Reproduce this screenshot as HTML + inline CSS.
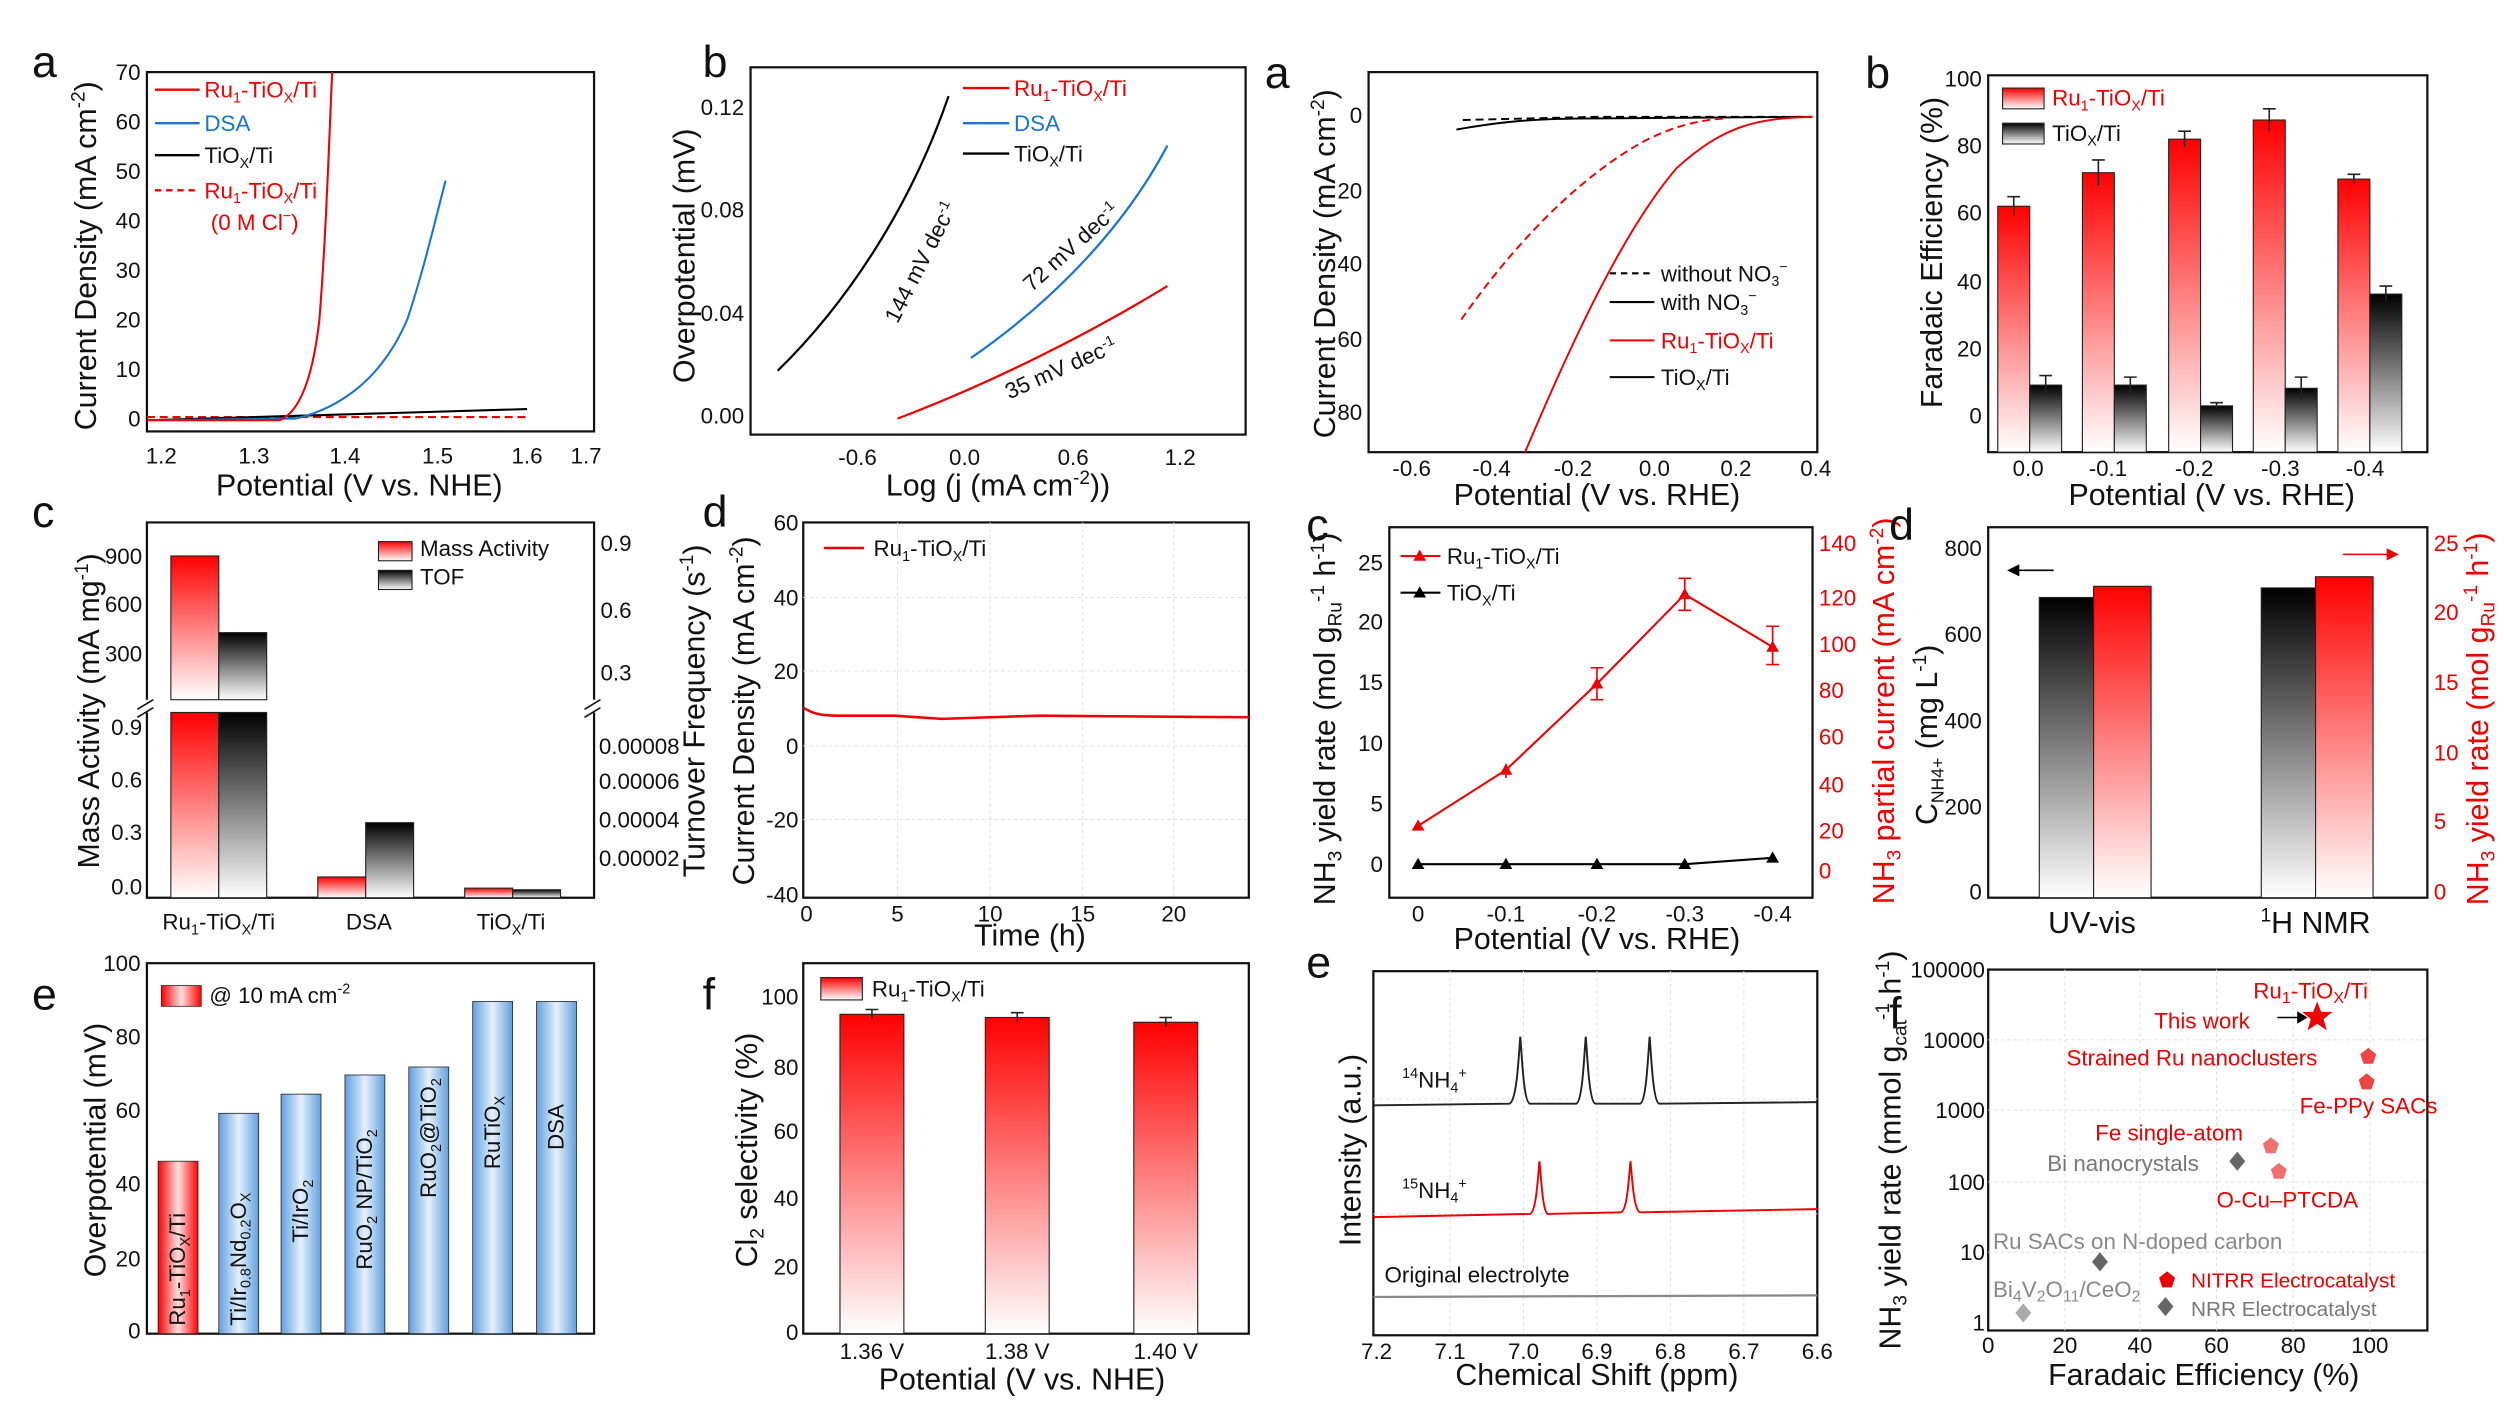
<!DOCTYPE html>
<html><head><meta charset="utf-8"><style>
html,body{margin:0;padding:0;background:#fff;}
svg{display:block;}
text{font-family:"Liberation Sans",sans-serif;}
.t{font-size:14px;fill:#111}
.ax{font-size:19px;fill:#111;font-family:"Liberation Sans",sans-serif}
.pl{font-size:28px;fill:#111;font-family:"Liberation Sans",sans-serif}
.box{fill:none;stroke:#111;stroke-width:1.4}
.g{stroke:#ddd;stroke-width:0.6;stroke-dasharray:2 2}
</style></head><body>
<svg width="2504" height="1401" viewBox="0 0 1568 877" xmlns="http://www.w3.org/2000/svg">
<defs>
<linearGradient id="rv" x1="0" y1="0" x2="0" y2="1"><stop offset="0" stop-color="#f00"/><stop offset="1" stop-color="#fff"/></linearGradient>
<linearGradient id="kv" x1="0" y1="0" x2="0" y2="1"><stop offset="0" stop-color="#000"/><stop offset="1" stop-color="#fff"/></linearGradient>
<linearGradient id="bh" x1="0" y1="0" x2="1" y2="0"><stop offset="0" stop-color="#5fa0e0"/><stop offset="0.5" stop-color="#e6f0fb"/><stop offset="1" stop-color="#5fa0e0"/></linearGradient>
<linearGradient id="rh" x1="0" y1="0" x2="1" y2="0"><stop offset="0" stop-color="#f00"/><stop offset="0.5" stop-color="#fde0e0"/><stop offset="1" stop-color="#f00"/></linearGradient>
</defs>

<!-- ===== Panel a (left top) ===== -->
<text class="pl" x="20" y="48">a</text>
<rect class="box" x="92" y="45" width="280" height="225"/>
<g class="t" text-anchor="end">
<text x="88" y="50">70</text><text x="88" y="81">60</text><text x="88" y="112">50</text><text x="88" y="143">40</text><text x="88" y="174">30</text><text x="88" y="205">20</text><text x="88" y="236">10</text><text x="88" y="267">0</text></g>
<g class="t" text-anchor="middle">
<text x="101" y="290">1.2</text><text x="159" y="290">1.3</text><text x="216" y="290">1.4</text><text x="274" y="290">1.5</text><text x="330" y="290">1.6</text><text x="367" y="290">1.7</text></g>
<text class="ax" x="225" y="310" text-anchor="middle">Potential (V vs. NHE)</text>
<text class="ax" transform="translate(60,160) rotate(-90)" text-anchor="middle">Current Density (mA cm<tspan dy="-7" font-size="12">-2</tspan><tspan dy="7">)</tspan></text>
<path d="M92 261 H330" stroke="#e00" stroke-width="1.3" stroke-dasharray="5 3" fill="none"/>
<path d="M92 263 L330 256" stroke="#000" stroke-width="1.3" fill="none"/>
<path d="M92 263 L185 262 C215 255 240 235 255 200 C265 170 272 140 279 113" stroke="#1a75d1" stroke-width="1.3" fill="none"/>
<path d="M92 263 L175 263 C188 258 196 235 200 200 C204 150 206 90 208 45" stroke="#e00" stroke-width="1.3" fill="none"/>
<g class="t">
<line x1="97" y1="56" x2="125" y2="56" stroke="#e00" stroke-width="1.5"/><text x="128" y="61" fill="#e00">Ru<tspan font-size="9" dy="3">1</tspan><tspan dy="-3">-TiO</tspan><tspan font-size="9" dy="3">X</tspan><tspan dy="-3">/Ti</tspan></text>
<line x1="97" y1="77" x2="125" y2="77" stroke="#1a75d1" stroke-width="1.5"/><text x="128" y="82" fill="#1a75d1">DSA</text>
<line x1="97" y1="97" x2="125" y2="97" stroke="#000" stroke-width="1.5"/><text x="128" y="102">TiO<tspan font-size="9" dy="3">X</tspan><tspan dy="-3">/Ti</tspan></text>
<line x1="97" y1="119" x2="125" y2="119" stroke="#e00" stroke-width="1.5" stroke-dasharray="4 3"/><text x="128" y="124" fill="#e00">Ru<tspan font-size="9" dy="3">1</tspan><tspan dy="-3">-TiO</tspan><tspan font-size="9" dy="3">X</tspan><tspan dy="-3">/Ti</tspan></text>
<text x="132" y="144" fill="#e00">(0 M Cl<tspan font-size="9" dy="-6">−</tspan><tspan dy="6">)</tspan></text>
</g>

<!-- ===== Panel b (left top) ===== -->
<text class="pl" x="440" y="48">b</text>
<rect class="box" x="470" y="42" width="310" height="230"/>
<g class="t" text-anchor="end">
<text x="466" y="72">0.12</text><text x="466" y="136">0.08</text><text x="466" y="201">0.04</text><text x="466" y="265">0.00</text></g>
<g class="t" text-anchor="middle">
<text x="537" y="291">-0.6</text><text x="604" y="291">0.0</text><text x="672" y="291">0.6</text><text x="739" y="291">1.2</text></g>
<text class="ax" x="625" y="310" text-anchor="middle">Log (j (mA cm<tspan dy="-7" font-size="12">-2</tspan><tspan dy="7">))</tspan></text>
<text class="ax" transform="translate(435,160) rotate(-90)" text-anchor="middle">Overpotential (mV)</text>
<path d="M487 232 C530 190 570 130 594 60" stroke="#000" stroke-width="1.4" fill="none"/>
<path d="M608 224 C650 195 700 150 731 91" stroke="#1a75d1" stroke-width="1.4" fill="none"/>
<path d="M562 262 C620 240 680 210 731 179" stroke="#e00" stroke-width="1.4" fill="none"/>
<text class="t" transform="translate(562,203) rotate(-63)" font-size="13">144 mV dec<tspan font-size="9" dy="-5">-1</tspan></text>
<text class="t" transform="translate(646,183) rotate(-42)" font-size="13" fill="#1a75d1">72 mV dec<tspan font-size="9" dy="-5">-1</tspan></text>
<text class="t" transform="translate(632,250) rotate(-24)" font-size="13" fill="#e00">35 mV dec<tspan font-size="9" dy="-5">-1</tspan></text>
<g class="t">
<line x1="603" y1="55" x2="632" y2="55" stroke="#e00" stroke-width="1.5"/><text x="635" y="60" fill="#e00">Ru<tspan font-size="9" dy="3">1</tspan><tspan dy="-3">-TiO</tspan><tspan font-size="9" dy="3">X</tspan><tspan dy="-3">/Ti</tspan></text>
<line x1="603" y1="77" x2="632" y2="77" stroke="#1a75d1" stroke-width="1.5"/><text x="635" y="82" fill="#1a75d1">DSA</text>
<line x1="603" y1="96" x2="632" y2="96" stroke="#000" stroke-width="1.5"/><text x="635" y="101">TiO<tspan font-size="9" dy="3">X</tspan><tspan dy="-3">/Ti</tspan></text>
</g>

<!-- ===== Panel a (right top) ===== -->
<text class="pl" x="792" y="55">a</text>
<rect class="box" x="857" y="45" width="281" height="238"/>
<g class="t" text-anchor="end">
<text x="853" y="77">0</text><text x="853" y="124">20</text><text x="853" y="170">40</text><text x="853" y="217">60</text><text x="853" y="263">80</text></g>
<g class="t" text-anchor="middle">
<text x="884" y="298">-0.6</text><text x="934" y="298">-0.4</text><text x="985" y="298">-0.2</text><text x="1036" y="298">0.0</text><text x="1087" y="298">0.2</text><text x="1137" y="298">0.4</text></g>
<text class="ax" x="1000" y="316" text-anchor="middle">Potential (V vs. RHE)</text>
<text class="ax" transform="translate(836,165) rotate(-90)" text-anchor="middle">Current Density (mA cm<tspan dy="-7" font-size="12">-2</tspan><tspan dy="7">)</tspan></text>
<path d="M916 75 L1000 73 L1135 73" stroke="#000" stroke-width="1.2" stroke-dasharray="5 3" fill="none"/>
<path d="M912 81 C940 76 960 74 1000 74 L1135 73" stroke="#000" stroke-width="1.2" fill="none"/>
<path d="M915 200 C950 150 990 110 1030 88 C1050 78 1065 75 1080 74" stroke="#e00" stroke-width="1.2" stroke-dasharray="5 3" fill="none"/>
<path d="M955 283 C990 200 1020 140 1050 105 C1080 78 1100 74 1135 73" stroke="#e00" stroke-width="1.2" fill="none"/>
<g class="t">
<line x1="1008" y1="171" x2="1036" y2="171" stroke="#000" stroke-width="1.3" stroke-dasharray="4 3"/><text x="1040" y="176">without NO<tspan font-size="9" dy="3">3</tspan><tspan font-size="9" dy="-9">−</tspan></text>
<line x1="1008" y1="189" x2="1036" y2="189" stroke="#000" stroke-width="1.3"/><text x="1040" y="194">with NO<tspan font-size="9" dy="3">3</tspan><tspan font-size="9" dy="-9">−</tspan></text>
<line x1="1008" y1="213" x2="1036" y2="213" stroke="#e00" stroke-width="1.3"/><text x="1040" y="218" fill="#e00">Ru<tspan font-size="9" dy="3">1</tspan><tspan dy="-3">-TiO</tspan><tspan font-size="9" dy="3">X</tspan><tspan dy="-3">/Ti</tspan></text>
<line x1="1008" y1="236" x2="1036" y2="236" stroke="#000" stroke-width="1.3"/><text x="1040" y="241">TiO<tspan font-size="9" dy="3">X</tspan><tspan dy="-3">/Ti</tspan></text>
</g>

<!-- ===== Panel b (right top) ===== -->
<text class="pl" x="1168" y="55">b</text>
<rect class="box" x="1245" y="47" width="275" height="236"/>
<g class="t" text-anchor="end">
<text x="1241" y="54">100</text><text x="1241" y="96">80</text><text x="1241" y="138">60</text><text x="1241" y="181">40</text><text x="1241" y="223">20</text><text x="1241" y="265">0</text></g>
<g class="t" text-anchor="middle">
<text x="1270" y="298">0.0</text><text x="1320" y="298">-0.1</text><text x="1374" y="298">-0.2</text><text x="1428" y="298">-0.3</text><text x="1481" y="298">-0.4</text></g>
<text class="ax" x="1385" y="316" text-anchor="middle">Potential (V vs. RHE)</text>
<text class="ax" transform="translate(1216,158) rotate(-90)" text-anchor="middle">Faradaic Efficiency (%)</text>
<g stroke="#222" stroke-width="0.7">
<rect x="1251" y="129" width="20" height="154" fill="url(#rv)"/><rect x="1271" y="241" width="20" height="42" fill="url(#kv)"/>
<rect x="1304" y="108" width="20" height="175" fill="url(#rv)"/><rect x="1324" y="241" width="20" height="42" fill="url(#kv)"/>
<rect x="1358" y="87" width="20" height="196" fill="url(#rv)"/><rect x="1378" y="254" width="20" height="29" fill="url(#kv)"/>
<rect x="1411" y="75" width="20" height="208" fill="url(#rv)"/><rect x="1431" y="243" width="20" height="40" fill="url(#kv)"/>
<rect x="1464" y="112" width="20" height="171" fill="url(#rv)"/><rect x="1484" y="184" width="20" height="99" fill="url(#kv)"/>
</g>
<g stroke="#222" stroke-width="1">
<path d="M1261 123V135M1257 123h8M1281 235V247M1277 235h8M1314 100V116M1310 100h8M1334 236V246M1330 236h8M1368 82V92M1364 82h8M1388 252V256M1384 252h8M1421 68V82M1417 68h8M1441 236V250M1437 236h8M1474 109V115M1470 109h8M1494 179V189M1490 179h8" fill="none"/>
</g>
<g class="t">
<rect x="1254" y="55" width="26" height="13" fill="url(#rv)" stroke="#222" stroke-width="0.7"/><text x="1285" y="66" fill="#e00">Ru<tspan font-size="9" dy="3">1</tspan><tspan dy="-3">-TiO</tspan><tspan font-size="9" dy="3">X</tspan><tspan dy="-3">/Ti</tspan></text>
<rect x="1254" y="77" width="26" height="13" fill="url(#kv)" stroke="#222" stroke-width="0.7"/><text x="1285" y="88">TiO<tspan font-size="9" dy="3">X</tspan><tspan dy="-3">/Ti</tspan></text>
</g>

<!-- ===== Panel c (left mid) ===== -->
<text class="pl" x="20" y="330">c</text>
<path class="box" d="M92 327 H372 V562 H92 Z"/>
<rect x="88" y="438" width="8" height="8" fill="#fff"/><rect x="368" y="438" width="8" height="8" fill="#fff"/>
<path d="M86 444 l10 -6 M86 449 l10 -6 M366 444 l10 -6 M366 449 l10 -6" stroke="#111" stroke-width="1"/>
<g class="t" text-anchor="end">
<text x="89" y="353">900</text><text x="89" y="383">600</text><text x="89" y="414">300</text>
<text x="89" y="460">0.9</text><text x="89" y="493">0.6</text><text x="89" y="526">0.3</text><text x="89" y="560">0.0</text></g>
<g class="t" font-size="12.5">
<text x="376" y="345">0.9</text><text x="376" y="387">0.6</text><text x="376" y="426">0.3</text>
<text x="375" y="472">0.00008</text><text x="375" y="494">0.00006</text><text x="375" y="518">0.00004</text><text x="375" y="542">0.00002</text></g>
<g class="t" text-anchor="middle">
<text x="137" y="582">Ru<tspan font-size="9" dy="3">1</tspan><tspan dy="-3">-TiO</tspan><tspan font-size="9" dy="3">X</tspan><tspan dy="-3">/Ti</tspan></text><text x="231" y="582">DSA</text><text x="320" y="582">TiO<tspan font-size="9" dy="3">X</tspan><tspan dy="-3">/Ti</tspan></text></g>
<text class="ax" transform="translate(62,445) rotate(-90)" text-anchor="middle">Mass Activity (mA mg<tspan dy="-7" font-size="12">-1</tspan><tspan dy="7">)</tspan></text>
<text class="ax" transform="translate(441,445) rotate(-90)" text-anchor="middle">Turnover Frequency (s<tspan dy="-7" font-size="12">-1</tspan><tspan dy="7">)</tspan></text>
<g stroke="#222" stroke-width="0.7">
<rect x="107" y="348" width="30" height="90" fill="url(#rv)"/><rect x="137" y="396" width="30" height="42" fill="url(#kv)"/>
<rect x="107" y="446" width="30" height="116" fill="url(#rv)"/><rect x="137" y="446" width="30" height="116" fill="url(#kv)"/>
<rect x="199" y="549" width="30" height="13" fill="url(#rv)"/><rect x="229" y="515" width="30" height="47" fill="url(#kv)"/>
<rect x="291" y="556" width="30" height="6" fill="url(#rv)"/><rect x="321" y="557" width="30" height="5" fill="url(#kv)"/>
</g>
<g class="t">
<rect x="237" y="339" width="21" height="12" fill="url(#rv)" stroke="#222" stroke-width="0.7"/><text x="263" y="348">Mass Activity</text>
<rect x="237" y="357" width="21" height="12" fill="url(#kv)" stroke="#222" stroke-width="0.7"/><text x="263" y="366">TOF</text>
</g>

<!-- ===== Panel d (left mid) ===== -->
<text class="pl" x="440" y="330">d</text>
<rect class="box" x="503" y="327" width="279" height="235"/>
<g class="g"><path d="M503 374H782M503 420H782M503 467H782M503 513H782M562 327V562M620 327V562M678 327V562M735 327V562"/></g>
<g class="t" text-anchor="end">
<text x="500" y="332">60</text><text x="500" y="379">40</text><text x="500" y="425">20</text><text x="500" y="472">0</text><text x="500" y="518">-20</text><text x="500" y="565">-40</text></g>
<g class="t" text-anchor="middle">
<text x="505" y="577">0</text><text x="562" y="577">5</text><text x="620" y="577">10</text><text x="678" y="577">15</text><text x="735" y="577">20</text></g>
<text class="ax" x="645" y="592" text-anchor="middle">Time (h)</text>
<text class="ax" transform="translate(472,445) rotate(-90)" text-anchor="middle">Current Density (mA cm<tspan dy="-7" font-size="12">-2</tspan><tspan dy="7">)</tspan></text>
<path d="M503 443 C508 446 512 448 525 448 L560 448 L590 450 L620 449 L650 448 L782 449" stroke="#e00" stroke-width="1.6" fill="none"/>
<line x1="516" y1="343" x2="541" y2="343" stroke="#e00" stroke-width="1.5"/><text class="t" x="547" y="348">Ru<tspan font-size="9" dy="3">1</tspan><tspan dy="-3">-TiO</tspan><tspan font-size="9" dy="3">X</tspan><tspan dy="-3">/Ti</tspan></text>

<!-- ===== Panel c (right mid) ===== -->
<text class="pl" x="818" y="338">c</text>
<rect class="box" x="870" y="330" width="265" height="232"/>
<g class="t" text-anchor="end">
<text x="866" y="357">25</text><text x="866" y="394">20</text><text x="866" y="432">15</text><text x="866" y="470">10</text><text x="866" y="508">5</text><text x="866" y="546">0</text></g>
<g class="t" fill="#e00">
<text x="1139" y="345" fill="#e00">140</text><text x="1139" y="379" fill="#e00">120</text><text x="1139" y="408" fill="#e00">100</text><text x="1139" y="437" fill="#e00">80</text><text x="1139" y="466" fill="#e00">60</text><text x="1139" y="496" fill="#e00">40</text><text x="1139" y="525" fill="#e00">20</text><text x="1139" y="550" fill="#e00">0</text></g>
<g class="t" text-anchor="middle">
<text x="888" y="577">0</text><text x="943" y="577">-0.1</text><text x="1000" y="577">-0.2</text><text x="1055" y="577">-0.3</text><text x="1110" y="577">-0.4</text></g>
<text class="ax" x="1000" y="594" text-anchor="middle">Potential (V vs. RHE)</text>
<text class="ax" transform="translate(836,450) rotate(-90)" text-anchor="middle">NH<tspan font-size="12" dy="4">3</tspan><tspan dy="-4"> yield rate (mol g</tspan><tspan font-size="12" dy="4">Ru</tspan><tspan font-size="12" dy="-11">-1</tspan><tspan dy="7"> h</tspan><tspan font-size="12" dy="-7">-1</tspan><tspan dy="7">)</tspan></text>
<text class="ax" transform="translate(1186,445) rotate(-90)" text-anchor="middle" style="fill:#e00">NH<tspan font-size="12" dy="4">3</tspan><tspan dy="-4"> partial current (mA cm</tspan><tspan font-size="12" dy="-7">-2</tspan><tspan dy="7">)</tspan></text>
<path d="M888 541 L943 541 L1000 541 L1055 541 L1110 537" stroke="#000" stroke-width="1.3" fill="none"/>
<path d="M888 517 L943 482 L1000 428 L1055 372 L1110 405" stroke="#e00" stroke-width="1.3" fill="none"/>
<g fill="#000"><path d="M888 537l4 7h-8z M943 537l4 7h-8z M1000 537l4 7h-8z M1055 537l4 7h-8z M1110 533l4 7h-8z"/></g>
<g fill="#e00"><path d="M888 513l4 7h-8z M943 478l4 7h-8z M1000 424l4 7h-8z M1055 368l4 7h-8z M1110 401l4 7h-8z"/></g>
<path d="M943 478V487M1000 418V438M1055 362V382M1110 392V416M1106 392h8M1106 416h8M1051 362h8M1051 382h8M996 418h8M996 438h8" stroke="#e00" stroke-width="1" fill="none"/>
<g class="t">
<line x1="877" y1="348" x2="902" y2="348" stroke="#e00" stroke-width="1.3"/><path d="M889 344l4 7h-8z" fill="#e00"/><text x="906" y="353">Ru<tspan font-size="9" dy="3">1</tspan><tspan dy="-3">-TiO</tspan><tspan font-size="9" dy="3">X</tspan><tspan dy="-3">/Ti</tspan></text>
<line x1="877" y1="371" x2="902" y2="371" stroke="#000" stroke-width="1.3"/><path d="M889 367l4 7h-8z" fill="#000"/><text x="906" y="376">TiO<tspan font-size="9" dy="3">X</tspan><tspan dy="-3">/Ti</tspan></text>
</g>

<!-- ===== Panel d (right mid) ===== -->
<text class="pl" x="1183" y="338">d</text>
<rect class="box" x="1245" y="330" width="275" height="232"/>
<g class="t" text-anchor="end">
<text x="1241" y="348">800</text><text x="1241" y="402">600</text><text x="1241" y="456">400</text><text x="1241" y="510">200</text><text x="1241" y="563">0</text></g>
<g class="t" fill="#e00">
<text x="1524" y="345" fill="#e00">25</text><text x="1524" y="388" fill="#e00">20</text><text x="1524" y="432" fill="#e00">15</text><text x="1524" y="476" fill="#e00">10</text><text x="1524" y="519" fill="#e00">5</text><text x="1524" y="563" fill="#e00">0</text></g>
<text class="ax" x="1310" y="584" text-anchor="middle">UV-vis</text>
<text class="ax" x="1450" y="584" text-anchor="middle"><tspan font-size="12" dy="-7">1</tspan><tspan dy="7">H NMR</tspan></text>
<text class="ax" transform="translate(1213,460) rotate(-90)" text-anchor="middle">C<tspan font-size="11" dy="4">NH4+</tspan><tspan dy="-4"> (mg L</tspan><tspan font-size="12" dy="-7">-1</tspan><tspan dy="7">)</tspan></text>
<text class="ax" transform="translate(1558,450) rotate(-90)" text-anchor="middle" style="fill:#e00">NH<tspan font-size="12" dy="4">3</tspan><tspan dy="-4"> yield rate (mol g</tspan><tspan font-size="12" dy="4">Ru</tspan><tspan font-size="12" dy="-11">-1</tspan><tspan dy="7"> h</tspan><tspan font-size="12" dy="-7">-1</tspan><tspan dy="7">)</tspan></text>
<g stroke="#222" stroke-width="0.7">
<rect x="1277" y="374" width="34" height="188" fill="url(#kv)"/><rect x="1311" y="367" width="36" height="195" fill="url(#rv)"/>
<rect x="1416" y="368" width="34" height="194" fill="url(#kv)"/><rect x="1450" y="361" width="36" height="201" fill="url(#rv)"/>
</g>
<path d="M1258 357H1286M1258 357l6 -3v6z" stroke="#000" fill="#000" stroke-width="1"/>
<path d="M1467 347H1495M1501 347l-6 -3v6z" stroke="#e00" fill="#e00" stroke-width="1"/>

<!-- ===== Panel e (left bottom) ===== -->
<text class="pl" x="20" y="632">e</text>
<rect class="box" x="92" y="603" width="280" height="232"/>
<g class="t" text-anchor="end">
<text x="88" y="608">100</text><text x="88" y="654">80</text><text x="88" y="700">60</text><text x="88" y="746">40</text><text x="88" y="793">20</text><text x="88" y="838">0</text></g>
<text class="ax" transform="translate(66,720) rotate(-90)" text-anchor="middle">Overpotential (mV)</text>
<g stroke="#222" stroke-width="0.5">
<rect x="99" y="727" width="25" height="108" fill="url(#rh)"/>
<rect x="137" y="697" width="25" height="138" fill="url(#bh)"/>
<rect x="176" y="685" width="25" height="150" fill="url(#bh)"/>
<rect x="216" y="673" width="25" height="162" fill="url(#bh)"/>
<rect x="256" y="668" width="25" height="167" fill="url(#bh)"/>
<rect x="296" y="627" width="25" height="208" fill="url(#bh)"/>
<rect x="336" y="627" width="25" height="208" fill="url(#bh)"/>
</g>
<g class="t" font-size="13">
<text transform="translate(116,830) rotate(-90)">Ru<tspan font-size="9" dy="3">1</tspan><tspan dy="-3">-TiO</tspan><tspan font-size="9" dy="3">X</tspan><tspan dy="-3">/Ti</tspan></text>
<text transform="translate(154,830) rotate(-90)">Ti/Ir<tspan font-size="9" dy="3">0.8</tspan><tspan dy="-3">Nd</tspan><tspan font-size="9" dy="3">0.2</tspan><tspan dy="-3">O</tspan><tspan font-size="9" dy="3">X</tspan></text>
<text transform="translate(193,778) rotate(-90)">Ti/IrO<tspan font-size="9" dy="3">2</tspan></text>
<text transform="translate(233,795) rotate(-90)">RuO<tspan font-size="9" dy="3">2</tspan><tspan dy="-3"> NP/TiO</tspan><tspan font-size="9" dy="3">2</tspan></text>
<text transform="translate(273,750) rotate(-90)">RuO<tspan font-size="9" dy="3">2</tspan><tspan dy="-3">@TiO</tspan><tspan font-size="9" dy="3">2</tspan></text>
<text transform="translate(313,732) rotate(-90)">RuTiO<tspan font-size="9" dy="3">X</tspan></text>
<text transform="translate(353,720) rotate(-90)">DSA</text>
</g>
<rect x="101" y="617" width="25" height="13" fill="url(#rh)" stroke="#222" stroke-width="0.5"/><text class="t" x="131" y="628">@ 10 mA cm<tspan font-size="9" dy="-6">-2</tspan></text>

<!-- ===== Panel f (left bottom) ===== -->
<text class="pl" x="440" y="632">f</text>
<rect class="box" x="503" y="603" width="279" height="232"/>
<g class="t" text-anchor="end">
<text x="500" y="629">100</text><text x="500" y="673">80</text><text x="500" y="713">60</text><text x="500" y="755">40</text><text x="500" y="798">20</text><text x="500" y="839">0</text></g>
<g class="t" text-anchor="middle">
<text x="546" y="851">1.36 V</text><text x="637" y="851">1.38 V</text><text x="730" y="851">1.40 V</text></g>
<text class="ax" x="640" y="870" text-anchor="middle">Potential (V vs. NHE)</text>
<text class="ax" transform="translate(474,720) rotate(-90)" text-anchor="middle">Cl<tspan font-size="12" dy="4">2</tspan><tspan dy="-4"> selectivity (%)</tspan></text>
<g stroke="#222" stroke-width="0.7">
<rect x="526" y="635" width="40" height="200" fill="url(#rv)"/>
<rect x="617" y="637" width="40" height="198" fill="url(#rv)"/>
<rect x="710" y="640" width="40" height="195" fill="url(#rv)"/>
</g>
<path d="M546 632V638M542 632h8M637 634V640M633 634h8M730 637V643M726 637h8" stroke="#222" fill="none"/>
<rect x="514" y="612" width="26" height="14" fill="url(#rv)" stroke="#222" stroke-width="0.7"/><text class="t" x="546" y="624">Ru<tspan font-size="9" dy="3">1</tspan><tspan dy="-3">-TiO</tspan><tspan font-size="9" dy="3">X</tspan><tspan dy="-3">/Ti</tspan></text>

<!-- ===== Panel e (right bottom) ===== -->
<text class="pl" x="818" y="612">e</text>
<rect class="box" x="860" y="608" width="278" height="228"/>
<g class="g"><path d="M908 608V836M954 608V836M1000 608V836M1046 608V836M1092 608V836M860 760H1138M860 688H1138"/></g>
<g class="t" text-anchor="middle">
<text x="862" y="851">7.2</text><text x="908" y="851">7.1</text><text x="954" y="851">7.0</text><text x="1000" y="851">6.9</text><text x="1046" y="851">6.8</text><text x="1092" y="851">6.7</text><text x="1138" y="851">6.6</text></g>
<text class="ax" x="1000" y="867" text-anchor="middle">Chemical Shift (ppm)</text>
<text class="ax" transform="translate(852,720) rotate(-90)" text-anchor="middle">Intensity (a.u.)</text>
<path d="M860 692 L945 691 C950 690 951 660 952 649 C953 660 954 690 958 691 L987 691 C991 690 992 660 993 649 C994 660 995 690 999 691 L1027 691 C1031 690 1032 660 1033 649 C1034 660 1035 690 1039 691 L1138 690" stroke="#222" stroke-width="1.2" fill="none"/>
<path d="M860 762 L958 760 C962 759 963 737 964 727 C965 737 966 758 969 760 L1015 759 C1019 758 1020 737 1021 727 C1022 737 1023 758 1027 759 L1138 757" stroke="#e00" stroke-width="1.2" fill="none"/>
<path d="M860 812 L1138 811" stroke="#888" stroke-width="1.4"/>
<text class="t" x="878" y="681"><tspan font-size="9" dy="-6">14</tspan><tspan dy="6">NH</tspan><tspan font-size="9" dy="3">4</tspan><tspan font-size="9" dy="-9">+</tspan></text>
<text class="t" x="878" y="750" fill="#e00"><tspan font-size="9" dy="-6">15</tspan><tspan dy="6">NH</tspan><tspan font-size="9" dy="3">4</tspan><tspan font-size="9" dy="-9">+</tspan></text>
<text class="t" x="867" y="803" fill="#888">Original electrolyte</text>

<!-- ===== Panel f (right bottom) ===== -->
<text class="pl" x="1183" y="644">f</text>
<rect class="box" x="1245" y="607" width="275" height="226"/>
<g class="g"><path d="M1245 651H1520M1245 695H1520M1245 740H1520M1245 784H1520M1293 607V833M1340 607V833M1388 607V833M1436 607V833M1484 607V833"/></g>
<g class="t" text-anchor="end">
<text x="1243" y="612">100000</text><text x="1243" y="656">10000</text><text x="1243" y="700">1000</text><text x="1243" y="745">100</text><text x="1243" y="789">10</text><text x="1243" y="833">1</text></g>
<g class="t" text-anchor="middle">
<text x="1245" y="847">0</text><text x="1293" y="847">20</text><text x="1340" y="847">40</text><text x="1388" y="847">60</text><text x="1436" y="847">80</text><text x="1484" y="847">100</text></g>
<text class="ax" x="1380" y="867" text-anchor="middle">Faradaic Efficiency (%)</text>
<text class="ax" transform="translate(1190,720) rotate(-90)" text-anchor="middle">NH<tspan font-size="12" dy="4">3</tspan><tspan dy="-4"> yield rate (mmol g</tspan><tspan font-size="12" dy="4">cat</tspan><tspan font-size="12" dy="-11">-1</tspan><tspan dy="7"> h</tspan><tspan font-size="12" dy="-7">-1</tspan><tspan dy="7">)</tspan></text>
<path d="M1451 627 l2.5 6.5 h7 l-5.5 4.5 2 7 -6 -4 -6 4 2 -7 -5.5 -4.5 h7z" fill="#e00"/>
<path d="M1426 637 H1444 M1444 637 l-5 -3 v6z" stroke="#000" fill="#000" stroke-width="1"/>
<g fill="#e44">
<path d="M1483 656 l5 4 -2 6 h-6 l-2 -6z"/>
<path d="M1482 672 l5 4 -2 6 h-6 l-2 -6z"/>
</g>
<g fill="#f07070">
<path d="M1422 712 l5 4 -2 6 h-6 l-2 -6z"/>
<path d="M1427 728 l5 4 -2 6 h-6 l-2 -6z"/>
</g>
<path d="M1357 796 l5 4 -2 6 h-6 l-2 -6z" fill="#e00"/>
<g fill="#666">
<path d="M1401 721 l5 6 -5 6 -5 -6z"/>
<path d="M1315 784 l5 6 -5 6 -5 -6z"/>
<path d="M1356 812 l5 6 -5 6 -5 -6z"/>
</g>
<path d="M1267 816 l5 6 -5 6 -5 -6z" fill="#aaa"/>
<g class="t" font-size="15">
<text x="1411" y="625" fill="#e00">Ru<tspan font-size="10" dy="3">1</tspan><tspan dy="-3">-TiO</tspan><tspan font-size="10" dy="3">X</tspan><tspan dy="-3">/Ti</tspan></text>
<text x="1349" y="644" fill="#e00">This work</text>
<text x="1294" y="667" fill="#e00">Strained Ru nanoclusters</text>
<text x="1440" y="697" fill="#e00">Fe-PPy SACs</text>
<text x="1312" y="714" fill="#e00">Fe single-atom</text>
<text x="1282" y="733" fill="#777">Bi nanocrystals</text>
<text x="1388" y="756" fill="#e00">O-Cu–PTCDA</text>
<text x="1248" y="782" fill="#888">Ru SACs on N-doped carbon</text>
<text x="1372" y="806" font-size="13" fill="#e00">NITRR Electrocatalyst</text>
<text x="1372" y="824" font-size="13" fill="#777">NRR Electrocatalyst</text>
<text x="1248" y="812" fill="#888">Bi<tspan font-size="10" dy="3">4</tspan><tspan dy="-3">V</tspan><tspan font-size="10" dy="3">2</tspan><tspan dy="-3">O</tspan><tspan font-size="10" dy="3">11</tspan><tspan dy="-3">/CeO</tspan><tspan font-size="10" dy="3">2</tspan></text>
</g>
</svg>
</body></html>
